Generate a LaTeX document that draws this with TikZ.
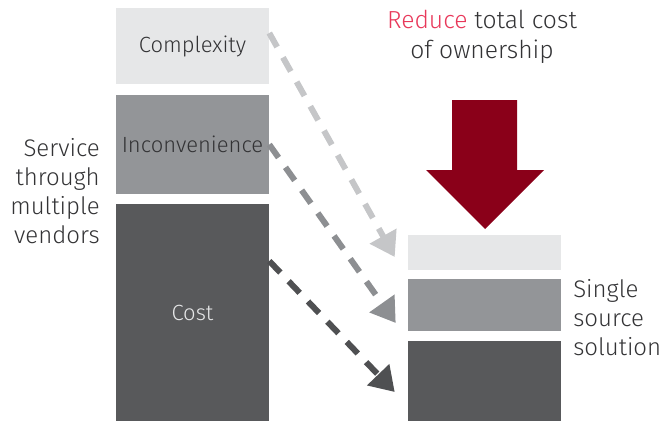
\documentclass[tikz,border=0pt]{standalone}
\usepackage{fontspec}
\setmainfont{Fira Sans Light}
\usetikzlibrary{arrows.meta,positioning}
\definecolor{lightgrey}{HTML}{E6E7E8}
\definecolor{midgrey}{HTML}{939598}
\definecolor{darkgrey}{HTML}{58595B}
\definecolor{textgrey}{HTML}{333335}
\definecolor{reducered}{HTML}{E8385A}
\definecolor{arrowred}{HTML}{8A0019}
\tikzset{
    box/.style={rectangle, minimum width=114.75pt, inner sep=0pt, font=\fontsize{16.5}{18}\selectfont, text=textgrey},
    lightbox/.style={box, fill=lightgrey},
    midbox/.style={box, fill=midgrey},
    darkbox/.style={box, fill=darkgrey, text=lightgrey},
    dashline/.style={line width=4.5pt, dash pattern=on 12pt off 9pt, -{Triangle[length=18pt,width=22pt]}},
    sidetext/.style={font=\fontsize{18}{21.75}\selectfont, text=textgrey, inner sep=0pt}
}

\begin{document}
\begin{tikzpicture}[x=0.75pt, y=-0.75pt]
    \useasboundingbox (0,0) rectangle (663,421);

    % left stack
    \node [lightbox, minimum height=57pt] (complexity) at (192.5,46) {Complexity};
    \node [midbox, minimum height=74.25pt] (inconv) at (192.5,144.5) {Inconvenience};
    \node [darkbox, minimum height=162.75pt] (cost) at (192.5,312.5) {Cost};

    % right stack
    \node [lightbox, minimum height=26.25pt] (single1) at (484.5,252.5) {};
    \node [midbox, minimum height=39pt] (single2) at (484.5,305) {};
    \node [darkbox, minimum height=60pt] (single3) at (484.5,381) {};

    % labels
    \node [sidetext, align=right, anchor=east] (service) at (100,191) {Service\\through\\multiple\\vendors};
    \node [sidetext, align=left, anchor=west] (solution) at (573,318) {Single\\source\\solution};
    \node [sidetext, align=center, font=\fontsize{18.5}{22.5}\selectfont] (reduce) at (482,37) {\textcolor{reducered}{Reduce} total cost\\of ownership};

    % red arrow
    \fill [arrowred] (452,100) -- (517,100) -- (517,170) -- (544,170) -- (485,229) -- (426,170) -- (452,170) -- cycle;

    % dashed arrows
    \draw [dashline, color=lightgrey!60!midgrey] ([yshift=9.75pt]complexity.east) -- ([xshift=-9.75pt,yshift=-3.4pt]single1.west);
    \draw [dashline, color=midgrey!90!darkgrey] (inconv.east) -- ([xshift=-9pt,yshift=-13.5pt]single2.west);
    \draw [dashline, color=darkgrey!90!black] ([yshift=38.6pt]cost.east) -- ([xshift=-9.75pt,yshift=-8.25pt]single3.west);
\end{tikzpicture}
\end{document}
